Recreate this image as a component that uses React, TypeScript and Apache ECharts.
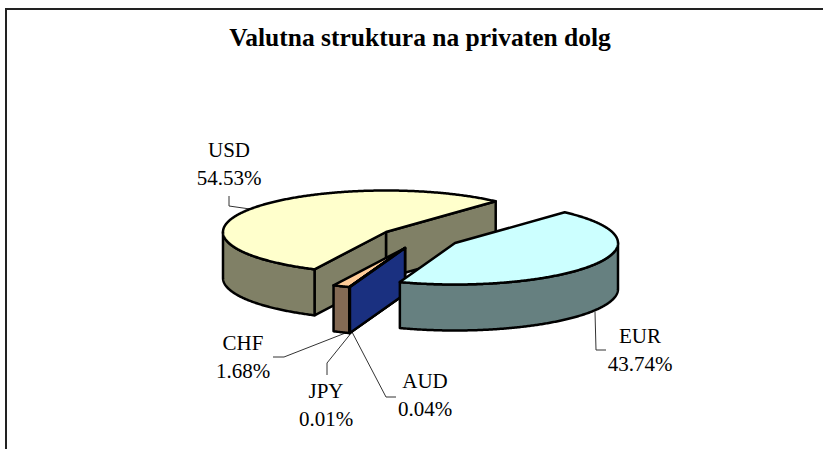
import React, { useEffect, useRef } from "react";
import * as echarts from "echarts";

const chartTitle = "Valutna struktura na privaten dolg";
const currencies = ["USD", "EUR", "AUD", "JPY", "CHF"];
const shares = [54.53, 43.74, 0.04, 0.01, 1.68];
const topColors = ["#FFFFCC", "#CCFFFF", "#3366FF", "#FF99CC", "#FFCC99"];
const sideColors = ["#808066", "#668080", "#1A3080", "#804D66", "#846A54"];
const drawOrder = [0, 4, 3, 2, 1];
const apexes = [[386, 232], [455, 243], [405, 248], [405, 248], [405, 248]];
const labelAnchors = [[229, 164], [640, 350], [425, 395], [326, 405], [243, 357]];
const leaders = [
  [[229, 196], [229, 206], [250, 209]],
  [[595, 312], [596, 350], [606, 350]],
  [[352, 332], [386, 397], [396, 397]],
  [[352, 332], [327, 363], [327, 375]],
  [[348, 332], [284, 357], [273, 357]],
];

const START_ANGLE = 206;
const RX = 163;
const RY = 41.5;
const DEPTH = 46;
const total = shares.reduce((a, b) => a + b, 0);
const rad = (d: number) => (d * Math.PI) / 180;

function sliceRange(i: number) {
  let a = START_ANGLE;
  for (let k = 0; k < i; k++) a += (shares[k] / total) * 360;
  return [a, a + (shares[i] / total) * 360];
}

function rim(c: number[], a: number, dy = 0) {
  return [c[0] + RX * Math.sin(rad(a)), c[1] - RY * Math.cos(rad(a)) + dy];
}

function arc(c: number[], a0: number, a1: number, dy = 0) {
  const pts: number[][] = [];
  const n = Math.max(2, Math.ceil(Math.abs(a1 - a0) * 2));
  for (let i = 0; i <= n; i++) pts.push(rim(c, a0 + ((a1 - a0) * i) / n, dy));
  return pts;
}

const lineStyle = (fill: string) => ({
  fill,
  stroke: "#000",
  lineWidth: 2.5,
  lineJoin: "round",
});

function renderSlice(_p: any, api: any) {
  const i = api.value(0);
  const c = apexes[i];
  const [a0, a1] = sliceRange(i);
  const norm = (d: number) => ((d % 360) + 360) % 360;
  const kids: any[] = [];
  const wall = (a: number) => {
    const r = rim(c, a);
    kids.push({
      type: "polygon",
      shape: { points: [c, r, [r[0], r[1] + DEPTH], [c[0], c[1] + DEPTH]] },
      style: lineStyle(sideColors[i]),
    });
  };
  if (norm(a1) > 0 && norm(a1) < 180) wall(a1);
  if (norm(a0) > 180) wall(a0);
  // visible part of the outer skin: the front half of the rim, 90..270 deg
  for (const shift of [0, 360]) {
    const f0 = Math.max(a0, 90 + shift);
    const f1 = Math.min(a1, 270 + shift);
    if (f1 > f0) {
      kids.push({
        type: "polygon",
        shape: { points: [...arc(c, f0, f1), ...arc(c, f1, f0, DEPTH)] },
        style: lineStyle(sideColors[i]),
      });
    }
  }
  kids.push({
    type: "polygon",
    shape: { points: [c, ...arc(c, a0, a1)] },
    style: lineStyle(topColors[i]),
  });
  return { type: "group", children: kids };
}

export default function App() {
  const ref = useRef<HTMLDivElement>(null);
  useEffect(() => {
    document.body.style.margin = "0";
    const chart = echarts.init(ref.current!, undefined, { renderer: "svg" });
    const font = "Liberation Serif";
    chart.setOption({
      animation: false,
      backgroundColor: "#fff",
      title: {
        text: chartTitle,
        left: 415,
        top: 19,
        textAlign: "center",
        textStyle: { fontFamily: font, fontSize: 25.5, fontWeight: "bold", color: "#000" },
      },
      series: [
        {
          type: "custom",
          coordinateSystem: "none",
          silent: true,
          data: drawOrder.map((i) => [i, shares[i]]),
          renderItem: renderSlice,
        },
      ],
      graphic: [
        { type: "line", shape: { x1: 6, y1: 8, x2: 6, y2: 449 }, style: { stroke: "#222", lineWidth: 2 } },
        { type: "line", shape: { x1: 5, y1: 9, x2: 823, y2: 9 }, style: { stroke: "#222", lineWidth: 2 } },
        ...leaders.map((pts) => ({
          type: "polyline",
          shape: { points: pts },
          style: { stroke: "#333", lineWidth: 1, fill: "none" },
        })),
        ...currencies.map((name, i) => ({
          type: "text",
          x: labelAnchors[i][0],
          y: labelAnchors[i][1],
          style: {
            text: `${name}\n${shares[i].toFixed(2)}%`,
            fontFamily: font,
            fontSize: 21,
            lineHeight: 28,
            fill: "#000",
            align: "center",
            verticalAlign: "middle",
          },
        })),
      ],
    });
    return () => chart.dispose();
  }, []);
  return <div ref={ref} style={{ width: 823, height: 449 }} />;
}
